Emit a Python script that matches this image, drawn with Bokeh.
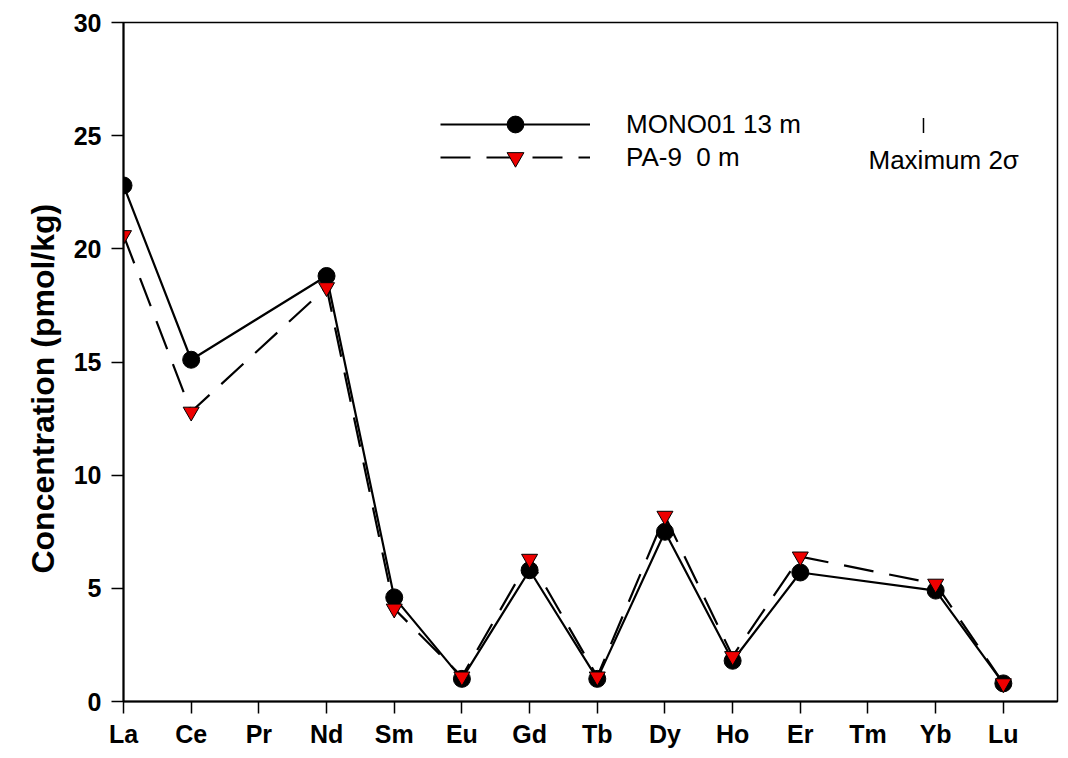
from bokeh.plotting import figure
from bokeh.models import (Legend, LegendItem, FixedTicker, Label, Range1d)
from bokeh.embed import file_html
from bokeh.resources import INLINE

elements = ["La", "Ce", "Pr", "Nd", "Sm", "Eu", "Gd", "Tb", "Dy", "Ho", "Er", "Tm", "Yb", "Lu"]
# None = not measured (Pr, Tm)
mono01 = [22.8, 15.1, None, 18.8, 4.6, 1.0, 5.8, 1.0, 7.5, 1.8, 5.7, None, 4.9, 0.8]
pa9 = [20.6, 12.8, None, 18.3, 4.1, 1.1, 6.3, 1.1, 8.2, 2.0, 6.4, None, 5.2, 0.8]
y_ticks = [0, 5, 10, 15, 20, 25, 30]

# scale bar for maximum 2 sigma (annotation)
sigma_x = 11.82
sigma_y = 25.45
sigma_half = 0.33

def valid(vals):
    xs = [i for i, v in enumerate(vals) if v is not None]
    ys = [v for v in vals if v is not None]
    return xs, ys

FONT = "Liberation Sans"

p = figure(width=1060, height=750, output_backend="svg", toolbar_location=None,
           x_range=Range1d(0, 13.8), y_range=Range1d(0, 30),
           min_border_left=123, min_border_right=3, min_border_top=22, min_border_bottom=45)
p.grid.visible = False
p.outline_line_color = "black"
p.outline_line_width = 1.5
p.background_fill_color = "white"
p.border_fill_color = "white"

mx, my = valid(mono01)
px, py = valid(pa9)

l1 = p.line(mx, my, line_color="black", line_width=2.2)
s1 = p.scatter(mx, my, marker="circle", size=17, fill_color="black", line_color="black")
l2 = p.line(px, py, line_color="black", line_width=2.2, line_dash="30 16")
s2 = p.scatter(px, py, marker="inverted_triangle", size=16, fill_color="#ee0000", line_color="black", line_width=1)

p.segment(x0=[sigma_x], y0=[sigma_y - sigma_half], x1=[sigma_x], y1=[sigma_y + sigma_half],
          line_color="black", line_width=1.5)
p.add_layout(Label(x=sigma_x, y=sigma_y, x_offset=-55, y_offset=-35, text="Maximum 2σ",
                   text_font=FONT, text_font_size="26px", text_color="black",
                   text_baseline="middle"))

def make_legend(label, renderers, loc):
    lg = Legend(items=[LegendItem(label=label, renderers=renderers)], location=loc)
    lg.glyph_width = 150
    lg.glyph_height = 42
    lg.padding = 0
    lg.margin = 0
    lg.label_standoff = 36
    lg.border_line_color = None
    lg.background_fill_alpha = 0
    lg.label_text_font = FONT
    lg.label_text_font_size = "26px"
    lg.label_text_color = "black"
    lg.label_text_baseline = "middle"
    return lg

p.add_layout(make_legend("MONO01 13 m", [l1, s1], (317, 556)))
p.add_layout(make_legend("PA-9  0 m", [l2, s2], (317, 523)))

p.xaxis.ticker = FixedTicker(ticks=list(range(len(elements))))
p.xaxis.major_label_overrides = {i: e for i, e in enumerate(elements)}
p.yaxis.ticker = FixedTicker(ticks=y_ticks)
p.yaxis.axis_label = "Concentration (pmol/kg)" + "\u00a0" * 6
p.yaxis.axis_label_text_font = FONT
p.yaxis.axis_label_text_font_style = "bold"
p.yaxis.axis_label_text_font_size = "32px"
p.yaxis.axis_label_text_color = "black"
p.yaxis.axis_label_standoff = 10

for ax in (p.xaxis[0], p.yaxis[0]):
    ax.axis_line_width = 2
    ax.axis_line_color = "black"
    ax.major_tick_line_width = 1.5
    ax.major_tick_out = 12
    ax.major_tick_in = 0
    ax.minor_tick_out = 0
    ax.minor_tick_in = 0
    ax.major_label_text_font = FONT
    ax.major_label_text_font_style = "bold"
    ax.major_label_text_font_size = "25px"
    ax.major_label_text_color = "black"
p.xaxis.major_label_standoff = 6
p.yaxis.major_label_standoff = 10

open("out.html", "w").write(file_html(p, INLINE))
